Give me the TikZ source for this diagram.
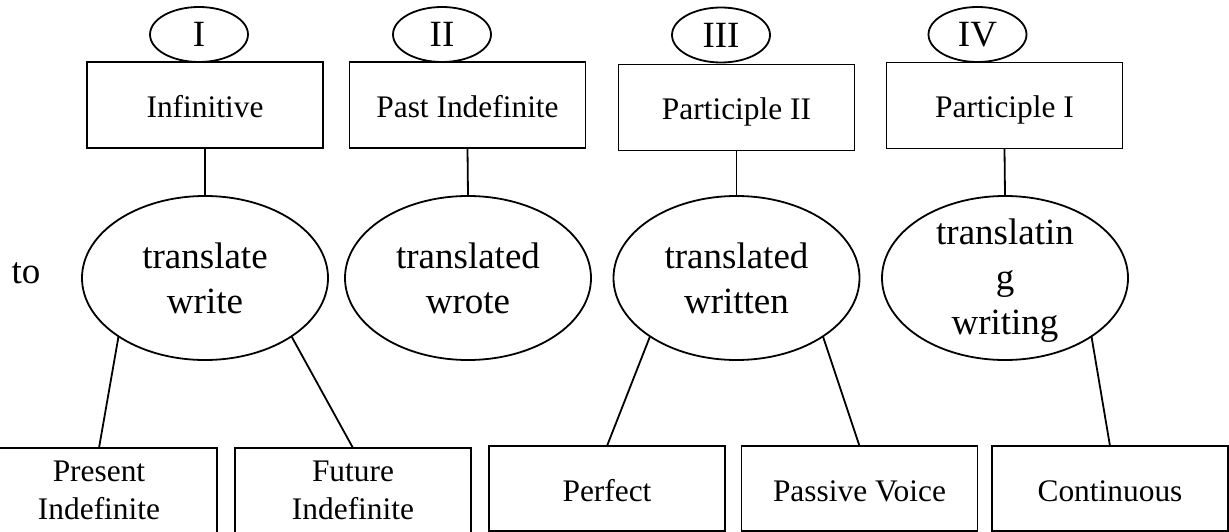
\documentclass[tikz,border=0pt]{standalone}
\usepackage{fontspec}
\setmainfont{Liberation Serif}
\usetikzlibrary{shapes.geometric}
\tikzset{
  base/.style={draw, line width=1.8pt, inner sep=0pt, outer sep=0pt},
  box/.style={base, rectangle, minimum width=236pt, minimum height=86pt,
    font=\fontsize{31.4}{38}\selectfont, align=center},
  onebox/.style={box, text height=25pt, text depth=0pt},
  num/.style={base, ellipse, minimum width=98pt, minimum height=55pt,
    font=\fontsize{37}{45}\selectfont},
  bigell/.style={base, ellipse, minimum width=246pt, minimum height=164pt},
  bigtxt/.style={font=\fontsize{37}{45}\selectfont, align=center, inner sep=0pt},
  conn/.style={line width=1.8pt}
}
\begin{document}
\begin{tikzpicture}[x=1pt, y=-1pt]
\useasboundingbox (0,0) rectangle (1229,532);
\clip (0,0) rectangle (1229,532);
% top boxes
\node[onebox] (inf)  at (205,105)   {Infinitive};
\node[onebox] (past) at (467.5,105) {Past Indefinite};
\node[onebox] (p2)   at (736.5,107.5) {Participle II};
\node[onebox] (p1)   at (1004.5,105.5) {Participle I};
% numerals
\node[num] (n1) at (199,34.5)   {I};
\node[num] (n2) at (442,34.5)   {II};
\node[num] (n3) at (721,35)     {III};
\node[num] (n4) at (977.5,34.5) {IV};
% big ellipses
\node[bigell] (e1) at (205,278)   {};
\node[bigell] (e2) at (468,278)   {};
\node[bigell] (e3) at (736.5,278) {};
\node[bigell] (e4) at (1005,278)  {};
\node[bigtxt] (t1) at (e1) {translate\\write};
\node[bigtxt] (t2) at (e2) {translated\\wrote};
\node[bigtxt] (t3) at (e3) {translated\\written};
\node[bigtxt, yshift=-3pt] (t4) at (e4) {translatin\\g\\writing};
\node[bigtxt, anchor=base] (to) at (26,283) {to};
% bottom boxes
\node[box, minimum height=85pt, yshift=-2pt] (pres) at (99,488.5)   {Present\\Indefinite};
\node[box, minimum height=85pt, yshift=-2pt] (fut)  at (353,488.5)  {Future\\Indefinite};
\node[onebox, minimum height=85pt] (perf) at (607,488.5)  {Perfect};
\node[onebox, minimum height=85pt] (pass) at (859.5,488.5) {Passive Voice};
\node[onebox, minimum height=85pt] (cont) at (1110,488.5) {Continuous};
% connectors
\draw[conn] (inf.south)  -- (e1.north);
\draw[conn] (past.south) -- (e2.north);
\draw[conn] (p2.south)   -- (e3.north);
\draw[conn] (p1.south)   -- (e4.north);
\draw[conn] (e1.214) -- (pres.north);
\draw[conn] (e1.326) -- (fut.north);
\draw[conn] (e3.214) -- (perf.north);
\draw[conn] (e3.326) -- (pass.north);
\draw[conn] (e4.326) -- (cont.north);
\end{tikzpicture}
\end{document}
